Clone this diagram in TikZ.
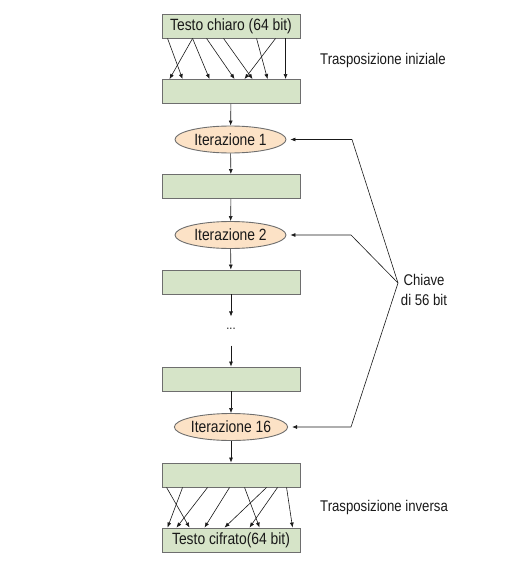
\documentclass[tikz,border=0pt]{standalone}
\usepackage{fontspec}
\setmainfont{Liberation Sans}[FakeStretch=0.85]
\usetikzlibrary{arrows.meta,calc,shapes.geometric}
\definecolor{boxfill}{RGB}{214,228,200}
\definecolor{ellfill}{RGB}{252,226,198}
\definecolor{edge}{RGB}{110,110,110}
\definecolor{ink}{RGB}{25,25,25}
\begin{document}
\begin{tikzpicture}[x=1pt,y=-1pt,
  stage/.style={draw=edge,line width=0.9pt,fill=boxfill,minimum width=138pt,minimum height=24pt,inner sep=0pt,text=ink,font=\fontsize{16.3}{18}\selectfont},
  iter/.style={ellipse,draw=edge,line width=0.9pt,fill=ellfill,minimum width=111pt,minimum height=27pt,inner sep=0pt,text=ink,font=\fontsize{16.3}{18}\selectfont},
  lab/.style={text=ink,font=\fontsize{15.5}{20}\selectfont,inner sep=0pt},
  arr/.style={draw=ink,line width=0.6pt,-{Latex[length=5pt,width=4pt]}},
  keyln/.style={draw=ink,line width=0.6pt}]
\useasboundingbox (0,0) rectangle (530,572);
\node[stage] (b1) at (231,26) {Testo chiaro (64 bit)};
\node[stage] (b2) at (231,91.5) {};
\node[iter] (i1) at (230.5,139.5) {Iterazione 1};
\node[stage] (b3) at (231,186.5) {};
\node[iter] (i2) at (230.5,235) {Iterazione 2};
\node[stage] (b4) at (231,282) {};
\node[text=ink,inner sep=0pt,font=\fontsize{13}{14}\selectfont] (dots) at (231,329) {...};
\node[stage] (b5) at (231,379) {};
\node[iter] (i16) at (231,427) {Iterazione 16};
\node[stage] (b6) at (231,475) {};
\node[stage] (b7) at (231,540) {Testo cifrato(64 bit)};
\node[lab,anchor=west] (t1) at (320,60) {Trasposizione iniziale};
\node[lab,anchor=west] (t2) at (320,507) {Trasposizione inversa};
\node[lab,align=center] (key) at (424,290) {Chiave\\di 56 bit};
% vertical chain
\draw[arr] (b2) -- (i1);
\draw[arr] (i1) -- (b3);
\draw[arr] (b3) -- (i2);
\draw[arr] (i2) -- (b4);
\draw[arr] (b4.south) -- ++(0,22);
\draw[arr] (b5.north) ++(0,-21) -- (b5.north);
\draw[arr] (b5) -- (i16);
\draw[arr] (i16) -- (b6);
% initial permutation
\foreach \s/\e in {6/21,31/8,31/48,45/73,62/91,95/106,114/83,124/124}
  \draw[arr] ([xshift=\s pt]b1.south west) -- ([xshift=\e pt]b2.north west);
% inverse permutation
\foreach \s/\e in {5/28,21/6,46/15,68/43,83/98,105/63,116/88,125/131}
  \draw[arr] ([xshift=\s pt]b6.south west) -- ([xshift=\e pt]b7.north west);
% key lines
\coordinate (k) at (398,283);
\coordinate (c1) at (352,139.5);
\coordinate (c2) at (351,235);
\coordinate (c3) at (351,427);
\draw[keyln,-{Latex[length=5pt,width=4pt]},shorten >=4pt] (k) -- (c1) -- (i1.east);
\draw[keyln,-{Latex[length=5pt,width=4pt]},shorten >=4pt] (k) -- (c2) -- (i2.east);
\draw[keyln,-{Latex[length=5pt,width=4pt]},shorten >=4pt] (k) -- (c3) -- (i16.east);
\end{tikzpicture}
\end{document}
